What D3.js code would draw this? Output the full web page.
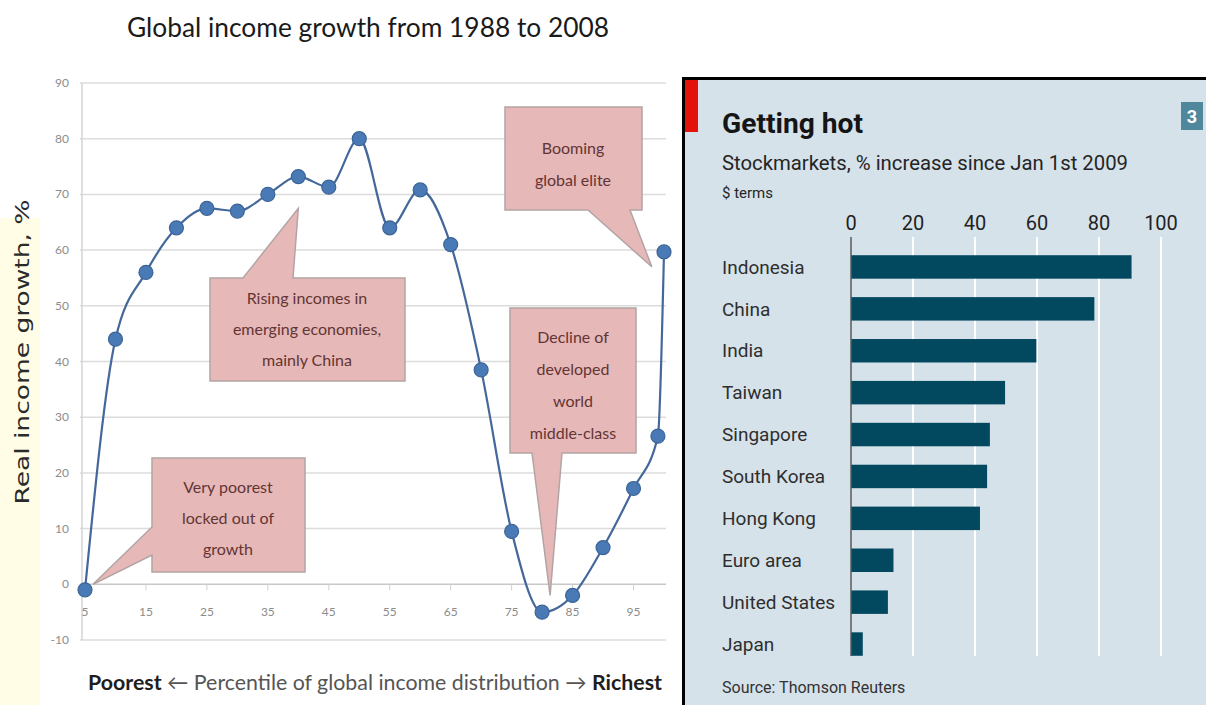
<!DOCTYPE html>
<html>
<head>
<meta charset="utf-8">
<script src="https://cdn.jsdelivr.net/npm/d3@7"></script>
<style>
body { margin: 0; background: #fff; }
svg { display: block; }
</style>
</head>
<body>
<div id="chart"></div>
<script>
// left chart: global income growth by percentile
var percentiles = [5, 10, 15, 20, 25, 30, 35, 40, 45, 50, 55, 60, 65, 70, 75, 80, 85, 90, 95, 99, 100];
var growth = [-1, 44, 56, 64, 67.5, 67, 70, 73.2, 71.3, 80, 64, 70.8, 61, 38.5, 9.5, -5, -2, 6.6, 17.2, 26.6, 59.7];
var xTickLabels = [5, 15, 25, 35, 45, 55, 65, 75, 85, 95];
var yTickLabels = [-10, 0, 10, 20, 30, 40, 50, 60, 70, 80, 90];
var noteVeryPoorest = ["Very poorest", "locked out of", "growth"];
var noteRising = ["Rising incomes in", "emerging economies,", "mainly China"];
var noteDecline = ["Decline of", "developed", "world", "middle-class"];
var noteElite = ["Booming", "global elite"];

// right chart: stockmarkets
var countries = ["Indonesia", "China", "India", "Taiwan", "Singapore", "South Korea", "Hong Kong", "Euro area", "United States", "Japan"];
var increase = [90.5, 78.5, 59.8, 49.7, 44.8, 43.9, 41.6, 13.7, 11.9, 3.8];
var barTicks = [0, 20, 40, 60, 80, 100];

var W = 1206, H = 705;

function drawChart() {
    d3.select("#chart").select("svg").remove();
    var svg = d3.select("#chart")
        .append("svg")
        .attr("width", W)
        .attr("height", H);

    svg.append("rect").attr("width", W).attr("height", H).attr("fill", "#fff");

    // ---------- left: elephant curve ----------
    var left = svg.append("g").attr("font-family", "Lato, 'Open Sans', sans-serif");

    left.append("rect")
        .attr("x", 0).attr("y", 218).attr("width", 40).attr("height", H - 218)
        .attr("fill", "#fffde6");

    var x = d3.scaleLinear().domain([5, 100]).range([85, 664]);
    var y = d3.scaleLinear().domain([-10, 90]).range([640, 83]);

    left.append("text")
        .attr("x", 368).attr("y", 37)
        .attr("text-anchor", "middle")
        .attr("font-size", 27)
        .attr("fill", "#1a1a1a")
        .attr("textLength", 482)
        .attr("lengthAdjust", "spacingAndGlyphs")
        .text("Global income growth from 1988 to 2008");

    // gridlines
    left.selectAll("line.grid")
        .data(yTickLabels)
        .enter().append("line")
        .attr("class", "grid")
        .attr("x1", 80).attr("x2", 666)
        .attr("y1", d => y(d)).attr("y2", d => y(d))
        .attr("stroke", d => d === 0 ? "#c8c8c8" : "#dcdcdc")
        .attr("stroke-width", 1.5);

    left.append("line")
        .attr("x1", 82).attr("x2", 82)
        .attr("y1", y(90)).attr("y2", y(-10))
        .attr("stroke", "#d4d4d4").attr("stroke-width", 1.5);

    left.selectAll("text.ytick")
        .data(yTickLabels)
        .enter().append("text")
        .attr("class", "ytick")
        .attr("x", 69).attr("y", d => y(d) + 4)
        .attr("text-anchor", "end")
        .attr("font-size", 12)
        .attr("fill", "#8c8c8c")
        .text(d => d);

    left.selectAll("line.xtick")
        .data(xTickLabels)
        .enter().append("line")
        .attr("class", "xtick")
        .attr("x1", d => x(d)).attr("x2", d => x(d))
        .attr("y1", y(0)).attr("y2", y(0) + 6)
        .attr("stroke", "#cfcfcf");

    left.selectAll("text.xtick")
        .data(xTickLabels)
        .enter().append("text")
        .attr("class", "xtick")
        .attr("x", d => x(d)).attr("y", 616)
        .attr("text-anchor", "middle")
        .attr("font-size", 12)
        .attr("fill", "#8c8c8c")
        .text(d => d);

    left.append("text")
        .attr("transform", "translate(29,352) rotate(-90)")
        .attr("text-anchor", "middle")
        .attr("font-family", "'DejaVu Sans', Verdana, sans-serif")
        .attr("font-size", 20)
        .attr("fill", "#2a2a2a")
        .attr("textLength", 305)
        .attr("lengthAdjust", "spacingAndGlyphs")
        .text("Real income growth, %");

    var bottom = left.append("text")
        .attr("x", 88).attr("y", 690)
        .attr("font-size", 21)
        .attr("textLength", 574)
        .attr("lengthAdjust", "spacingAndGlyphs");
    bottom.append("tspan").attr("font-weight", "bold").attr("fill", "#1e1e1e").text("Poorest");
    bottom.append("tspan").attr("fill", "#555").text(" \u2190 Percentile of global income distribution \u2192 ");
    bottom.append("tspan").attr("font-weight", "bold").attr("fill", "#1e1e1e").text("Richest");

    // callouts
    function callout(pts, lines, cx, firstY, step) {
        left.append("path")
            .attr("d", "M" + pts.map(p => p.join(",")).join("L") + "Z")
            .attr("fill", "#e6b9b8")
            .attr("stroke", "#b3a4a4")
            .attr("stroke-width", 1.5);
        left.selectAll(null)
            .data(lines)
            .enter().append("text")
            .attr("x", cx).attr("y", (d, i) => firstY + i * step)
            .attr("text-anchor", "middle")
            .attr("font-size", 16)
            .attr("fill", "#633434")
            .text(d => d);
    }

    var tip1 = [x(5) + 8, y(0)];
    callout([[152, 458], [305, 458], [305, 572], [152, 572], [152, 555], tip1, [152, 527]],
        noteVeryPoorest, 228, 493, 31);

    var tip2 = [x(40), y(67.5)];
    callout([[210, 278], [243, 278], tip2, [293, 278], [405, 278], [405, 381], [210, 381]],
        noteRising, 307, 304, 31);

    var tip3 = [x(80) + 8, y(-2)];
    callout([[510, 308], [636, 308], [636, 453], [562, 453], tip3, [532, 453], [510, 453]],
        noteDecline, 573, 343, 32);

    var tip4 = [x(98), y(57)];
    callout([[505, 107], [642, 107], [642, 210], [630, 210], tip4, [588, 210], [505, 210]],
        noteElite, 573, 154, 32);

    // series
    var pts = percentiles.map((p, i) => [p, growth[i]]);
    var line = d3.line()
        .x(d => x(d[0]))
        .y(d => y(d[1]))
        .curve(d3.curveMonotoneX);

    left.append("path")
        .datum(pts)
        .attr("d", line)
        .attr("fill", "none")
        .attr("stroke", "#44689a")
        .attr("stroke-width", 2.2);

    left.selectAll("circle.pt")
        .data(pts)
        .enter().append("circle")
        .attr("class", "pt")
        .attr("cx", d => x(d[0]))
        .attr("cy", d => y(d[1]))
        .attr("r", 7)
        .attr("fill", "#4a7ab5")
        .attr("stroke", "#3b6496")
        .attr("stroke-width", 1.2);

    // ---------- right: Economist bar chart ----------
    var right = svg.append("g").attr("font-family", "Roboto, 'Open Sans', sans-serif");

    right.append("rect")
        .attr("x", 684).attr("y", 79).attr("width", W - 684).attr("height", H - 79)
        .attr("fill", "#d6e2ea");
    right.append("line")
        .attr("x1", 683.5).attr("x2", 683.5).attr("y1", 77).attr("y2", H)
        .attr("stroke", "#000").attr("stroke-width", 3);
    right.append("line")
        .attr("x1", 682).attr("x2", W).attr("y1", 78.5).attr("y2", 78.5)
        .attr("stroke", "#000").attr("stroke-width", 3);
    right.append("rect")
        .attr("x", 685).attr("y", 80).attr("width", 13).attr("height", 52)
        .attr("fill", "#e3120b");

    right.append("rect")
        .attr("x", 1181).attr("y", 102).attr("width", 22).attr("height", 28)
        .attr("fill", "#4f889c");
    right.append("text")
        .attr("x", 1192).attr("y", 123)
        .attr("text-anchor", "middle")
        .attr("font-size", 18).attr("font-weight", "bold")
        .attr("fill", "#fff")
        .text("3");

    right.append("text")
        .attr("x", 722).attr("y", 133)
        .attr("font-size", 28).attr("font-weight", "bold")
        .attr("fill", "#151515")
        .attr("textLength", 141).attr("lengthAdjust", "spacingAndGlyphs")
        .text("Getting hot");
    right.append("text")
        .attr("x", 722).attr("y", 170)
        .attr("font-size", 20)
        .attr("fill", "#252525")
        .attr("textLength", 406).attr("lengthAdjust", "spacingAndGlyphs")
        .text("Stockmarkets, % increase since Jan 1st 2009");
    right.append("text")
        .attr("x", 722).attr("y", 198)
        .attr("font-size", 15)
        .attr("fill", "#252525")
        .text("$ terms");

    var bx = d3.scaleLinear().domain([0, 100]).range([851, 1161]);
    var by = d3.scaleBand().domain(countries).range([246, 665]).paddingInner(0.44).paddingOuter(0.22);

    right.selectAll("line.bgrid")
        .data(barTicks.slice(1))
        .enter().append("line")
        .attr("class", "bgrid")
        .attr("x1", d => bx(d)).attr("x2", d => bx(d))
        .attr("y1", 237).attr("y2", 656)
        .attr("stroke", "#fff").attr("stroke-width", 2);

    right.selectAll("text.btick")
        .data(barTicks)
        .enter().append("text")
        .attr("class", "btick")
        .attr("x", d => bx(d)).attr("y", 230)
        .attr("text-anchor", "middle")
        .attr("font-size", 20)
        .attr("fill", "#222")
        .text(d => d);

    right.selectAll("rect.bar")
        .data(countries)
        .enter().append("rect")
        .attr("class", "bar")
        .attr("x", bx(0))
        .attr("y", d => by(d))
        .attr("width", (d, i) => bx(increase[i]) - bx(0))
        .attr("height", by.bandwidth())
        .attr("fill", "#02485f");

    right.append("line")
        .attr("x1", bx(0)).attr("x2", bx(0))
        .attr("y1", 237).attr("y2", 656)
        .attr("stroke", "#5a5a5a").attr("stroke-width", 1.5);

    right.selectAll("text.country")
        .data(countries)
        .enter().append("text")
        .attr("class", "country")
        .attr("x", 722)
        .attr("y", d => by(d) + by.bandwidth() / 2)
        .attr("dy", "0.35em")
        .attr("font-size", 19)
        .attr("fill", "#2e2e2e")
        .text(d => d);

    right.append("text")
        .attr("x", 722).attr("y", 693)
        .attr("font-size", 16)
        .attr("fill", "#333")
        .text("Source: Thomson Reuters");
}

window.onload = drawChart;
</script>
</body>
</html>
